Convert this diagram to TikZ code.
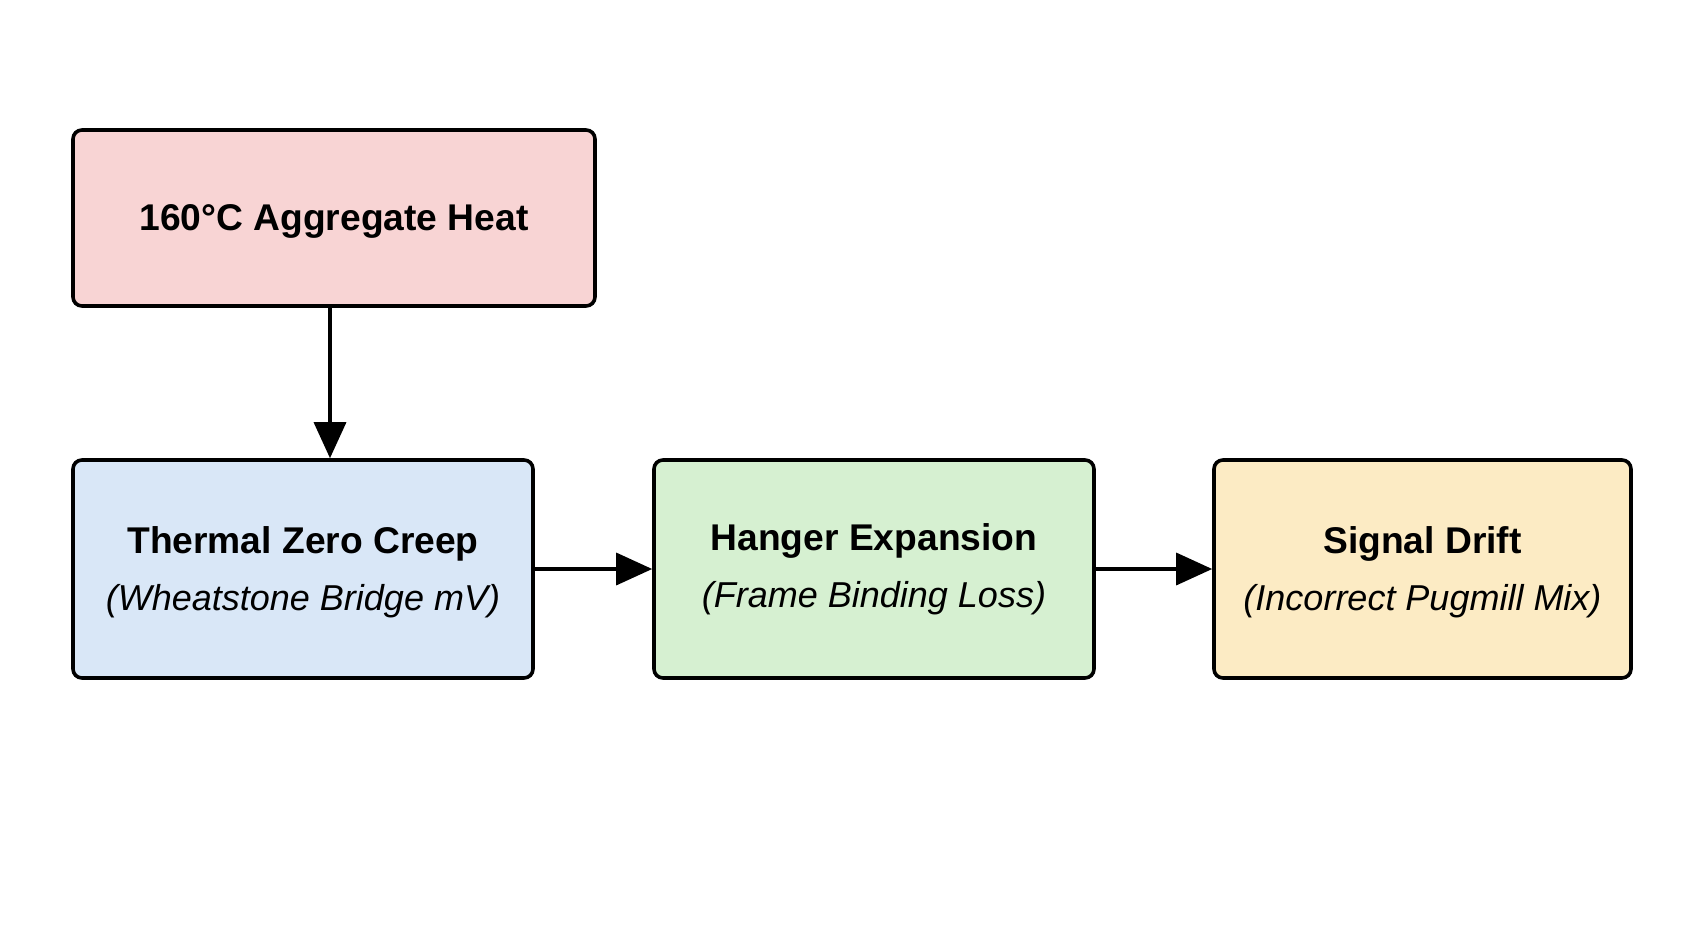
\documentclass[tikz,border=0pt]{standalone}
\usepackage{fontspec}
\setmainfont{Liberation Sans}
\usetikzlibrary{arrows.meta}
\definecolor{redfill}{HTML}{F8D4D4}
\definecolor{bluefill}{HTML}{D9E7F7}
\definecolor{greenfill}{HTML}{D6F0D1}
\definecolor{yellowfill}{HTML}{FCEBC4}
\newcommand{\topstrut}{\rule{0pt}{16.5pt}}
\tikzset{
  box/.style={draw=black, line width=1.8pt, rounded corners=4.5pt, align=center,
    font=\fontsize{18.6pt}{28.5pt}\selectfont, inner sep=0pt},
  sub/.style={},
  conn/.style={line width=1.7pt, -{Triangle[length=18pt,width=16pt]}}
}
\newcommand{\subline}[1]{{\fontsize{18pt}{28.5pt}\selectfont\itshape #1}}
\begin{document}
\begin{tikzpicture}[x=0.5pt,y=-0.5pt]
\useasboundingbox[fill=white] (0,0) rectangle (1688,932);
\node[box, fill=redfill, minimum width=261pt, minimum height=88pt] (b1) at (334,218)
  {\topstrut\textbf{160°C Aggregate Heat}};
\node[box, fill=bluefill, minimum width=230pt, minimum height=109pt] (b2) at (303,569)
  {\topstrut\textbf{Thermal Zero Creep}\\\subline{(Wheatstone Bridge mV)}};
\node[box, fill=greenfill, minimum width=220pt, minimum height=109pt] (b3) at (874,569)
  {\textbf{Hanger Expansion}\\\subline{(Frame Binding Loss)}};
\node[box, fill=yellowfill, minimum width=208.5pt, minimum height=109pt] (b4) at (1422.5,569)
  {\topstrut\textbf{Signal Drift}\\\subline{(Incorrect Pugmill Mix)}};
\coordinate (s1) at ([xshift=-2pt]b1.south);
\coordinate (t2) at (s1 |- b2.north);
\draw[conn] (s1) -- (t2);
\draw[conn] (b2.east) -- (b3.west);
\draw[conn] (b3.east) -- (b4.west);
\end{tikzpicture}
\end{document}
